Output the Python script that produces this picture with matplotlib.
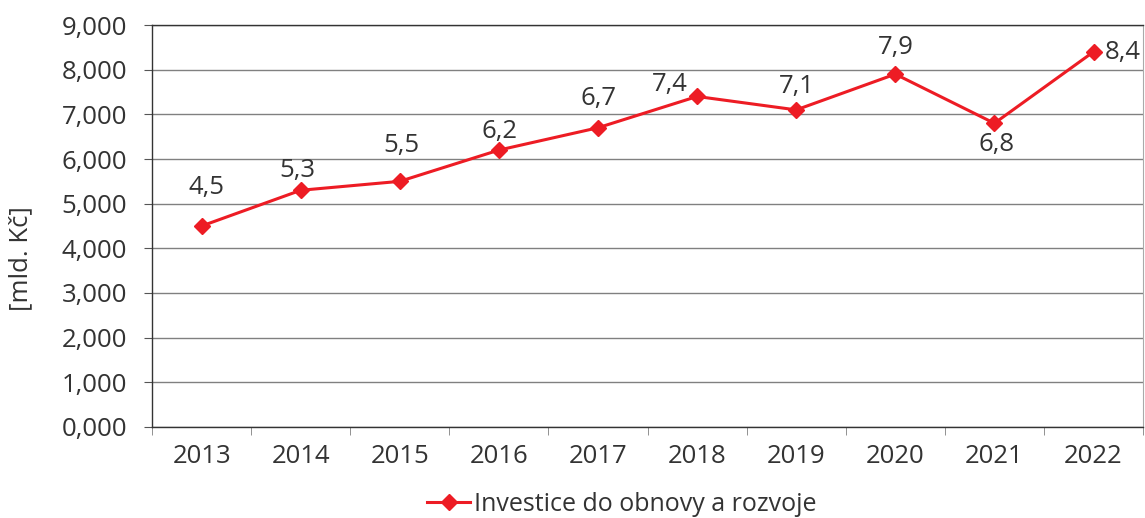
import numpy as np
import matplotlib.pyplot as plt
from matplotlib.ticker import FuncFormatter

# Daten
roky = ['2013', '2014', '2015', '2016', '2017', '2018', '2019', '2020', '2021', '2022']
investice = [4500, 5300, 5500, 6200, 6700, 7400, 7100, 7900, 6800, 8400]
popisky = ['4,5', '5,3', '5,5', '6,2', '6,7', '7,4', '7,1', '7,9', '6,8', '8,4']

# Posun popisku od bodu (px), wie im Original
posun_x = [5, -3, 2, 1, 0, -27, 1, 1, 2, 29]
posun_y = [39, 20, 36, 19, 29, 12, 23, 27, -21, -1]

cervena = '#ED1C24'
text_barva = '#333333'

plt.rcParams['font.family'] = ['Open Sans', 'DejaVu Sans']
fs = 18.5

fig = plt.figure(figsize=(11.45, 5.18), dpi=100)
ax = fig.add_axes([0.1328, 0.1757, 0.8655, 0.776])

x = np.arange(len(roky))
ax.plot(x, investice, color=cervena, lw=2.2, marker='D', markersize=8.2,
        label='Investice do obnovy a rozvoje', zorder=3)

# popisky hodnot
for i, (v, t) in enumerate(zip(investice, popisky)):
    ax.annotate(t, (i, v), xytext=(posun_x[i] * 0.72, posun_y[i] * 0.72),
                textcoords='offset points', ha='center', va='center',
                fontsize=fs, color=text_barva)

ax.set_xlim(-0.5, 9.5)
ax.set_ylim(0, 9000)
ax.set_yticks(np.arange(0, 9001, 1000))
ax.yaxis.set_major_formatter(FuncFormatter(lambda v, p: f'{v/1000:.3f}'.replace('.', ',')))
ax.set_xticks(x)
ax.set_xticklabels(roky)
ax.set_xticks(np.arange(-0.5, 10, 1), minor=True)
ax.tick_params(axis='x', which='major', length=0, pad=12, labelsize=fs, labelcolor=text_barva)
ax.tick_params(axis='x', which='minor', length=6, color='#808080')
ax.tick_params(axis='y', length=6, color='#555555', labelsize=fs, labelcolor=text_barva, pad=12)

ax.grid(axis='y', color='#808080', lw=1)
ax.set_axisbelow(True)
for s in ['left', 'bottom', 'top']:
    ax.spines[s].set_color('#333333')
    ax.spines[s].set_linewidth(1)
ax.spines['right'].set_color('#aaaaaa')

fig.text(0.018, 0.5, '[mld. Kč]', rotation=90, va='center', ha='center',
         fontsize=fs, color=text_barva)

fig.legend(loc='center', bbox_to_anchor=(0.543, 0.027), frameon=False,
           fontsize=18, handlelength=1.7, handletextpad=0.15,
           labelcolor=text_barva)

fig.savefig('out.png', dpi=100)
